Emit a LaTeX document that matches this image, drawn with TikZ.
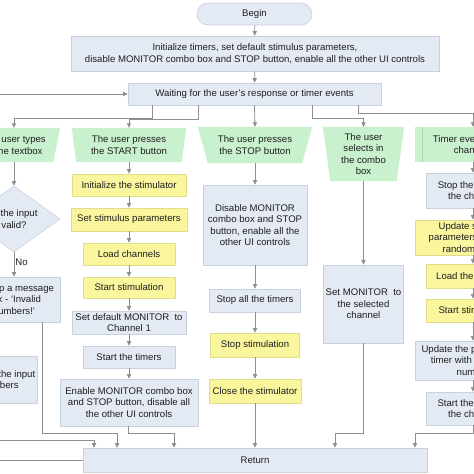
\documentclass[tikz,border=0pt]{standalone}
\usepackage{fontspec}
\setmainfont{Liberation Sans}
\usetikzlibrary{arrows.meta,shapes.geometric,calc}
\pgfdeclarelayer{bg}
\pgfsetlayers{bg,main}
\definecolor{bfill}{HTML}{E4EAF4}
\definecolor{bdraw}{HTML}{C8D1E0}
\definecolor{yfill}{HTML}{FAF69E}
\definecolor{ydraw}{HTML}{E2DD8C}
\definecolor{gfill}{HTML}{C9F1CE}
\definecolor{gline}{HTML}{A8D8AE}
\definecolor{lcol}{HTML}{8E8E8E}
\definecolor{tcol}{HTML}{1E1E1E}
\tikzset{
  txt/.style={align=center, inner sep=1pt, text=tcol, font=\fontsize{9.6}{11.5}\selectfont},
  box/.style={txt, draw=bdraw, fill=bfill, line width=0.6pt},
  ybox/.style={box, draw=ydraw, fill=yfill},
  sz/.style 2 args={minimum width=#1pt, minimum height=#2pt},
  con/.style={draw=lcol, line width=0.8pt, -{Triangle[length=4.5pt,width=4.2pt]}},
}
\begin{document}
\begin{tikzpicture}[x=1pt,y=-1pt]
\useasboundingbox (0,0) rectangle (474,474);
\begin{pgfonlayer}{bg}
  \fill[white] (0,0) rectangle (474,474);
\end{pgfonlayer}
\clip (0,0) rectangle (474,474);

% top
\node[box, sz={115}{22}, rounded corners=11pt] (begin) at (254.5,14) {Begin};
\node[box, sz={368}{35}] (init) at (255,53.5) {Initialize timers, set default stimulus parameters,\\disable MONITOR combo box and STOP button, enable all the other UI controls};
\node[box, sz={253}{22}] (wait) at (254.5,94) {Waiting for the user's response or timer events};

% event trapezoids (text nodes, shapes on background)
\node[txt, sz={92}{34}] (t1) at (14,145) {The user types\\in the textbox};
\node[txt, sz={114}{34}] (t2) at (129,145) {The user presses\\the START button};
\node[txt, sz={114}{36}] (t3) at (255,145) {The user presses\\the STOP button};
\node[txt, sz={81}{54}] (t4) at (363.5,154) {The user\\selects in\\the combo\\box};
\node[txt, sz={116}{35}] (t5) at (473,144.5) {Timer event for the\\channels};
\begin{pgfonlayer}{bg}
  \fill[gfill] (t1.north west) -- (t1.north east) -- ([xshift=-7pt]t1.south east) -- ([xshift=7pt]t1.south west) -- cycle;
  \fill[gfill] (t2.north west) -- (t2.north east) -- ([xshift=-4.5pt]t2.south east) -- ([xshift=4.5pt]t2.south west) -- cycle;
  \fill[gfill] (t3.north west) -- (t3.north east) -- ([xshift=-10pt]t3.south east) -- ([xshift=10pt]t3.south west) -- cycle;
  \fill[gfill] (t4.north west) -- (t4.north east) -- ([xshift=-7.5pt]t4.south east) -- ([xshift=7.5pt]t4.south west) -- cycle;
  \fill[gfill] (t5.north west) rectangle (t5.south east);
  \draw[gline, line width=0.6pt] ([xshift=7pt]t5.north west) -- ([xshift=7pt]t5.south west);
\end{pgfonlayer}

% left column
\node[box, diamond, sz={92}{66}, inner sep=0pt] (dia) at (14,219) {Is the input\\valid?};
\node[box, sz={92}{45}] (msg) at (14,299.5) {Pop up a message\\box - `Invalid\\numbers!'};
\node[box, sz={74}{47}] (upd) at (0,379.5) {Update the input\\numbers};

% START column
\node[ybox, sz={114}{22}] (s1) at (129,185) {Initialize the stimulator};
\node[ybox, sz={116}{23}] (s2) at (129,219.5) {Set stimulus parameters};
\node[ybox, sz={92}{22}] (s3) at (129,254) {Load channels};
\node[ybox, sz={92}{21}] (s4) at (129,287.5) {Start stimulation};
\node[box, sz={114}{23}] (s5) at (129,322.5) {Set default MONITOR~ to\\Channel 1};
\node[box, sz={92}{22}] (s6) at (129,357) {Start the timers};
\node[box, sz={138}{47}] (s7) at (129,402.5) {Enable MONITOR combo box\\and STOP button, disable all\\the other UI controls};

% STOP column
\node[box, sz={104}{80}] (p1) at (255,225) {Disable MONITOR\\combo box and STOP\\button, enable all the\\other UI controls};
\node[box, sz={91}{23}] (p2) at (255,300.5) {Stop all the timers};
\node[ybox, sz={89}{24}] (p3) at (255,345) {Stop stimulation};
\node[ybox, sz={92}{24}] (p4) at (255,391) {Close the stimulator};

% combo column
\node[box, sz={80}{78}] (c1) at (363.5,304) {Set MONITOR~ to\\the selected\\channel};

% timer column
\node[box, sz={94}{35}] (r1) at (473,190.5) {Stop the timer of\\the channel};
\node[ybox, sz={116}{35}] (r2) at (473,237.5) {Update stimulus\\parameters with new\\random seeds};
\node[ybox, sz={94}{24}] (r3) at (473,276) {Load the channel};
\node[ybox, sz={94}{23}] (r4) at (473,310.5) {Start stimulation};
\node[box, sz={116}{39}] (r5) at (473,360.5) {Update the period of the\\timer with a random\\number};
\node[box, sz={94}{33}] (r6) at (473,408.5) {Start the timer of\\the channel};

% return
\node[box, sz={344}{24}] (ret) at (255,460) {Return};

% connectors: top
\draw[con] (begin) -- (init);
\draw[con] (init) -- (wait);
\draw[con] ([xshift=-102.5pt]wait.south) -- ++(0,13) -| (t1.north);
\draw[con] ([xshift=-56.5pt]wait.south) -- ++(0,14) -| (t2.north);
\draw[con] (wait.south) -- (t3.north);
\draw[con] ([xshift=57.5pt]wait.south) -- ++(0,13) -| (t4.north);
\draw[con] ([xshift=103.5pt]wait.south) -- ++(0,8) -| (t5.north);

% left column
\draw[con] (t1.south) -- (dia.north);
\draw[con] (dia.south) -- node[txt, right, pos=0.42] {No} (msg.north);

% START column
\draw[con] (t2.south) -- (s1.north);
\draw[con] (s1) -- (s2);
\draw[con] (s2) -- (s3);
\draw[con] (s3) -- (s4);
\draw[con] (s4) -- (s5);
\draw[con] (s5) -- (s6);
\draw[con] (s6) -- (s7);

% STOP column
\draw[con] (t3.south) -- (p1.north);
\draw[con] (p1) -- (p2);
\draw[con] (p2) -- (p3);
\draw[con] (p3) -- (p4);

% combo column
\draw[con] (t4.south) -- (c1.north);

% timer column
\draw[con] (t5.south) -- (r1.north);
\draw[con] (r1) -- (r2);
\draw[con] (r2) -- (r3);
\draw[con] (r3) -- (r4);
\draw[con] (r4) -- (r5);
\draw[con] (r5) -- (r6);

% into return
\draw[con] ([xshift=-20pt]upd.south) -- ++(0,37) -| ([xshift=-161pt]ret.north);
\draw[con] ([xshift=28pt]msg.south) -- ++(0,111) -| ([xshift=-138pt]ret.north);
\draw[con] ([xshift=-1pt]s7.south) -- ++(0,7) -| ([xshift=-81pt]ret.north);
\draw[con] (p4.south) -- (ret.north);
\draw[con] (c1.south) -- ++(0,90) -| ([xshift=80pt]ret.north);
\draw[con] (r6.south) -- ++(0,8) -| ([xshift=160pt]ret.north);

% loop back
\draw[con] (ret.west) -- ++(-120,0) |- (wait.west);
\end{tikzpicture}
\end{document}
